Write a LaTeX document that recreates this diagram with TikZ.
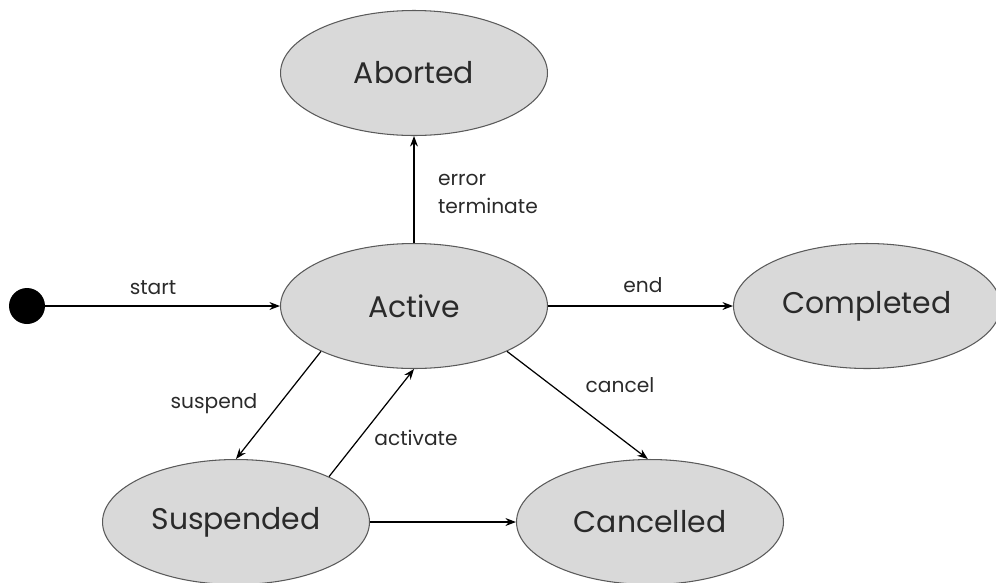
\documentclass[tikz,border=0pt]{standalone}
\usepackage{fontspec}
\setmainfont{Poppins}
\usetikzlibrary{shapes.geometric,arrows.meta}
\definecolor{statefill}{HTML}{D9D9D9}
\definecolor{stateedge}{HTML}{5A5A5A}
\definecolor{txt}{HTML}{2A2A2A}
\tikzset{
  x=0.02cm, y=-0.02cm,
  state/.style={ellipse, draw=stateedge, fill=statefill, line width=0.6pt,
    minimum width=5.34cm, minimum height=2.5cm, inner sep=0pt,
    font=\fontsize{17}{20}\selectfont, text=txt},
  lbl/.style={font=\fontsize{11.5}{14}\selectfont, text=txt, inner sep=1pt},
  conn/.style={line width=0.7pt, -{Stealth[length=6pt,width=4.5pt]}}
}
\begin{document}
\begin{tikzpicture}
\useasboundingbox (0,0) rectangle (996,582);
\node[circle, fill=black, minimum size=0.72cm, inner sep=0pt] (init) at (27,306) {};
\node[state] (active) at (414,306) {Active};
\node[state] (aborted) at (414,73) {Aborted};
\node[state] (completed) at (867,306) {Completed};
\node[state] (suspended) at (236,522) {Suspended};
\node[state] (cancelled) at (650,522) {Cancelled};

\draw[conn] (init) -- (active);
\draw[conn] (active) -- (completed);
\draw[conn] (active) -- (aborted);
\draw[conn] (active.206) -- (suspended.90);
\draw[conn] (suspended.26) -- (active.270);
\draw[conn] (active.334) -- (cancelled.92);
\draw[conn] (suspended) -- (cancelled);

\node[lbl] (lstart) at (153,288) {start};
\node[lbl] (lend) at (643,285) {end};
\node[lbl, anchor=west, align=left] (lerr) at (436,194) {error\\[2pt]terminate};
\node[lbl] (lsusp) at (214,404) {suspend};
\node[lbl] (lact) at (416,438) {activate};
\node[lbl] (lcancel) at (620,385) {cancel};
\end{tikzpicture}
\end{document}
